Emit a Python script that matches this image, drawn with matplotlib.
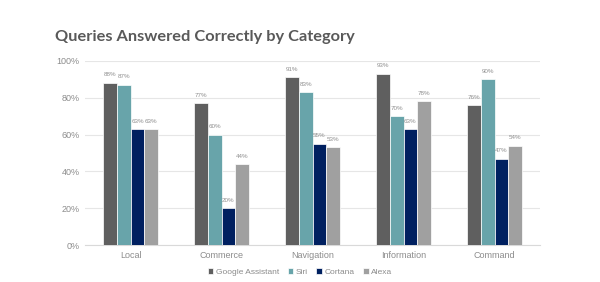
import numpy as np
import matplotlib.pyplot as plt

categories = ['Local', 'Commerce', 'Navigation', 'Information', 'Command']
series = ['Google Assistant', 'Siri', 'Cortana', 'Alexa']
google = [88, 77, 91, 93, 76]
siri = [87, 60, 83, 70, 90]
cortana = [63, 20, 55, 63, 47]
alexa = [63, 44, 53, 78, 54]
colors = ['#5f5f5f', '#68a4aa', '#002060', '#a0a0a0']

plt.rcParams['font.family'] = ['Liberation Sans', 'DejaVu Sans']

fig = plt.figure(figsize=(6, 2.82), dpi=100)
ax = fig.add_axes([0.142, 0.131, 0.758, 0.653])

x = np.arange(len(categories))
w = 0.15
for i, (name, vals) in enumerate(zip(series, [google, siri, cortana, alexa])):
    pos = x + (i - 1.5) * w
    ax.bar(pos, vals, w, color=colors[i], edgecolor='white', linewidth=0.5,
           label=name, zorder=3)
    for px, v in zip(pos, vals):
        ax.text(px, v + 3, f'{v}%', ha='center', va='bottom', fontsize=4.5,
                color='#909090')

ax.set_xlim(-0.5, len(categories) - 0.5)
ax.set_ylim(0, 100)
ax.set_yticks(range(0, 101, 20))
ax.set_yticklabels([f'{t}%' for t in range(0, 101, 20)], fontsize=6.5, color='#8c8c8c')
ax.set_xticks(x)
ax.set_xticklabels(categories, fontsize=6.5, color='#8c8c8c')
ax.tick_params(length=0, pad=4)
ax.grid(axis='y', color='#e6e6e6', linewidth=0.8, zorder=0)
for s in ['top', 'right', 'left']:
    ax.spines[s].set_visible(False)
ax.spines['bottom'].set_color('#d9d9d9')

fig.text(0.092, 0.855, 'Queries Answered Correctly by Category', fontsize=11.8,
         color='#595959', family=['Lato', 'DejaVu Sans'], fontweight='bold')

fig.legend(loc='center', bbox_to_anchor=(0.5, 0.035), ncol=4, frameon=False,
           fontsize=6, handlelength=0.7, handleheight=0.7, handletextpad=0.3,
           columnspacing=1.0, labelcolor='#8c8c8c')

plt.savefig('out.png', dpi=100)
